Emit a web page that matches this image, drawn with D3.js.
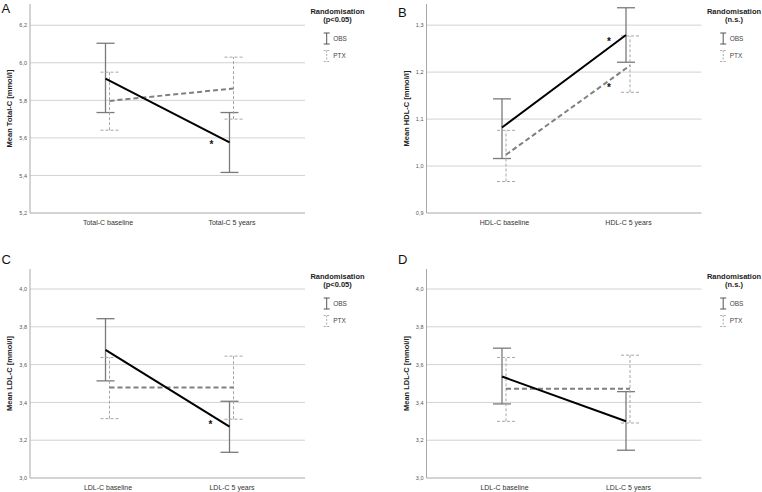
<!DOCTYPE html>
<html>
<head>
<meta charset="utf-8">
<script src="https://cdn.jsdelivr.net/npm/d3@7/dist/d3.min.js"></script>
<style>
  body { margin: 0; background: #fff; }
  text { font-family: "Liberation Sans", Arial, sans-serif; }
</style>
</head>
<body>
<div id="chart"></div>
<script>
// ---- data ----
var catsA = ["Total-C baseline", "Total-C 5 years"];
var obsA = [{m: 5.916, lo: 5.735, hi: 6.104}, {m: 5.576, lo: 5.416, hi: 5.735}];
var ptxA = [{m: 5.797, lo: 5.641, hi: 5.950}, {m: 5.863, lo: 5.700, hi: 6.030}];
var ticksA = [5.2, 5.4, 5.6, 5.8, 6.0, 6.2];

var catsB = ["HDL-C baseline", "HDL-C 5 years"];
var obsB = [{m: 1.082, lo: 1.016, hi: 1.143}, {m: 1.279, lo: 1.221, hi: 1.337}];
var ptxB = [{m: 1.024, lo: 0.967, hi: 1.076}, {m: 1.214, lo: 1.157, hi: 1.277}];
var ticksB = [0.9, 1.0, 1.1, 1.2, 1.3];

var catsC = ["LDL-C baseline", "LDL-C 5 years"];
var obsC = [{m: 3.678, lo: 3.514, hi: 3.843}, {m: 3.272, lo: 3.136, hi: 3.406}];
var ptxC = [{m: 3.479, lo: 3.314, hi: 3.638}, {m: 3.479, lo: 3.311, hi: 3.645}];
var ticksC = [3.0, 3.2, 3.4, 3.6, 3.8, 4.0];

var catsD = ["LDL-C baseline", "LDL-C 5 years"];
var obsD = [{m: 3.537, lo: 3.392, hi: 3.687}, {m: 3.300, lo: 3.147, hi: 3.457}];
var ptxD = [{m: 3.472, lo: 3.300, hi: 3.638}, {m: 3.472, lo: 3.291, hi: 3.650}];
var ticksD = [3.0, 3.2, 3.4, 3.6, 3.8, 4.0];

// significance stars: which series, which category
var starsA = [{s: "obs", i: 1, dx: -20, dy: 0}];
var starsB = [{s: "obs", i: 1, dx: -19, dy: 4}, {s: "ptx", i: 1, dx: -19, dy: 19}];
var starsC = [{s: "obs", i: 1, dx: -21, dy: -5}];
var starsD = [];

var panels = [
  {letter: "A", ox: 0, oy: 0, ly: 12.5, cats: catsA, obs: obsA, ptx: ptxA, ticks: ticksA, top: 6.313,
   title: "Mean Total-C [mmol/l]", sub: "(p<0.05)", stars: starsA},
  {letter: "B", ox: 396.5, oy: 0, ly: 17, cats: catsB, obs: obsB, ptx: ptxB, ticks: ticksB, top: 1.345,
   title: "Mean HDL-C [mmol/l]", sub: "(n.s.)", stars: starsB},
  {letter: "C", ox: 0, oy: 265, ly: -1, cats: catsC, obs: obsC, ptx: ptxC, ticks: ticksC, top: 4.106,
   title: "Mean LDL-C [mmol/l]", sub: "(p<0.05)", stars: starsC},
  {letter: "D", ox: 396.5, oy: 265, ly: -1, cats: catsD, obs: obsD, ptx: ptxD, ticks: ticksD, top: 4.106,
   title: "Mean LDL-C [mmol/l]", sub: "(n.s.)", stars: starsD}
];

var width = 762, height = 492;
var svg = d3.select("#chart").append("svg")
  .attr("width", width)
  .attr("height", height);

var fmt = function(v){ return d3.format(".1f")(v).replace(".", ","); };

function drawPanel(p) {
  var g = svg.append("g").attr("transform", "translate(" + p.ox + "," + p.oy + ")");
  var left = 30, right = 305, yTop = 4, yBot = 213;

  var y = d3.scaleLinear().domain([p.ticks[0], p.top]).range([yBot, yTop]);
  var x = d3.scalePoint().domain(p.cats).range([left, 309]).padding(0.625);

  // gridlines
  g.selectAll(".grid").data(p.ticks.slice(1)).enter().append("line")
    .attr("x1", left).attr("x2", right)
    .attr("y1", function(d){ return y(d); }).attr("y2", function(d){ return y(d); })
    .attr("stroke", "#d2d2d2").attr("stroke-width", 1);

  // y axis
  var yAxis = g.append("g").attr("transform", "translate(" + left + ",0)")
    .call(d3.axisLeft(y).tickValues(p.ticks).tickSize(0).tickPadding(3).tickFormat(fmt));
  yAxis.select(".domain").remove();
  yAxis.selectAll("text").attr("font-size", "5.5px").attr("fill", "#555")
    .attr("font-family", "Liberation Sans, Arial, sans-serif");

  // x axis
  var xAxis = g.append("g").attr("transform", "translate(0," + yBot + ")")
    .call(d3.axisBottom(x).tickSize(0).tickPadding(7));
  xAxis.select(".domain").remove();
  xAxis.selectAll("text").attr("font-size", "7px").attr("fill", "#333")
    .attr("font-family", "Liberation Sans, Arial, sans-serif");

  g.append("line").attr("x1", left).attr("x2", left).attr("y1", yTop).attr("y2", yBot)
    .attr("stroke", "#a8a8a8").attr("stroke-width", 1);
  g.append("line").attr("x1", left).attr("x2", right).attr("y1", yBot).attr("y2", yBot)
    .attr("stroke", "#a8a8a8").attr("stroke-width", 1);

  // y title
  g.append("text")
    .attr("transform", "translate(9.5," + ((yTop + yBot) / 2) + ") rotate(-90)")
    .attr("text-anchor", "middle").attr("dominant-baseline", "central")
    .attr("font-size", "7.5px").attr("font-weight", "bold").attr("fill", "#222")
    .text(p.title);

  // panel letter
  svg.append("text").attr("x", p.ox + 1.5).attr("y", p.oy + p.ly)
    .attr("font-size", "13px").attr("fill", "#111").text(p.letter);

  var series = [
    {key: "obs", data: p.obs, dx: -2, bar: "#7a7a7a", barW: 1.3, barDash: null,
     line: "#000", lineW: 2, lineDash: null},
    {key: "ptx", data: p.ptx, dx: 2, bar: "#a6a6a6", barW: 1, barDash: "3,2",
     line: "#808080", lineW: 2, lineDash: "5,3"}
  ];
  var cap = 9;

  series.forEach(function(s) {
    var bars = g.append("g");
    s.data.forEach(function(d, i) {
      var cx = x(p.cats[i]) + s.dx;
      bars.append("line").attr("x1", cx).attr("x2", cx)
        .attr("y1", y(d.lo)).attr("y2", y(d.hi));
      bars.append("line").attr("x1", cx - cap).attr("x2", cx + cap)
        .attr("y1", y(d.lo)).attr("y2", y(d.lo));
      bars.append("line").attr("x1", cx - cap).attr("x2", cx + cap)
        .attr("y1", y(d.hi)).attr("y2", y(d.hi));
    });
    bars.selectAll("line").attr("stroke", s.bar).attr("stroke-width", s.barW)
      .attr("stroke-dasharray", s.barDash);
  });

  series.slice().reverse().forEach(function(s) {
    var line = d3.line()
      .x(function(d, i){ return x(p.cats[i]) + s.dx; })
      .y(function(d){ return y(d.m); });
    g.append("path").datum(s.data).attr("d", line)
      .attr("fill", "none").attr("stroke", s.line).attr("stroke-width", s.lineW)
      .attr("stroke-dasharray", s.lineDash);
  });

  // stars
  p.stars.forEach(function(st) {
    var d = p[st.s][st.i];
    g.append("text")
      .attr("x", x(p.cats[st.i]) + st.dx)
      .attr("y", y(d.m) + st.dy + 6)
      .attr("text-anchor", "middle").attr("font-size", "10px").attr("font-weight", "bold")
      .attr("fill", "#111")
      .text("*");
  });

  // legend
  var lx = 337.5;
  g.append("text").attr("x", lx).attr("y", 14).attr("text-anchor", "middle")
    .attr("font-size", "7.5px").attr("font-weight", "bold").attr("fill", "#222")
    .text("Randomisation");
  g.append("text").attr("x", lx).attr("y", 22).attr("text-anchor", "middle")
    .attr("font-size", "7.5px").attr("font-weight", "bold").attr("fill", "#222")
    .text(p.sub);

  var legItems = [
    {name: "OBS", y0: 33, y1: 44, stroke: "#555", dash: null},
    {name: "PTX", y0: 50.5, y1: 61.5, stroke: "#aaa", dash: "2,1.5"}
  ];
  var sx = lx - 10.8;
  legItems.forEach(function(it) {
    var lg = g.append("g");
    lg.append("line").attr("x1", sx).attr("x2", sx).attr("y1", it.y0).attr("y2", it.y1);
    lg.append("line").attr("x1", sx - 3).attr("x2", sx + 3).attr("y1", it.y0).attr("y2", it.y0);
    lg.append("line").attr("x1", sx - 3).attr("x2", sx + 3).attr("y1", it.y1).attr("y2", it.y1);
    lg.selectAll("line").attr("stroke", it.stroke).attr("stroke-width", 1)
      .attr("stroke-dasharray", it.dash);
    lg.append("text").attr("x", sx + 6.5).attr("y", (it.y0 + it.y1) / 2 + 2.2)
      .attr("font-size", "6.5px").attr("fill", "#444").text(it.name);
  });
}

panels.forEach(drawPanel);
</script>
</body>
</html>
